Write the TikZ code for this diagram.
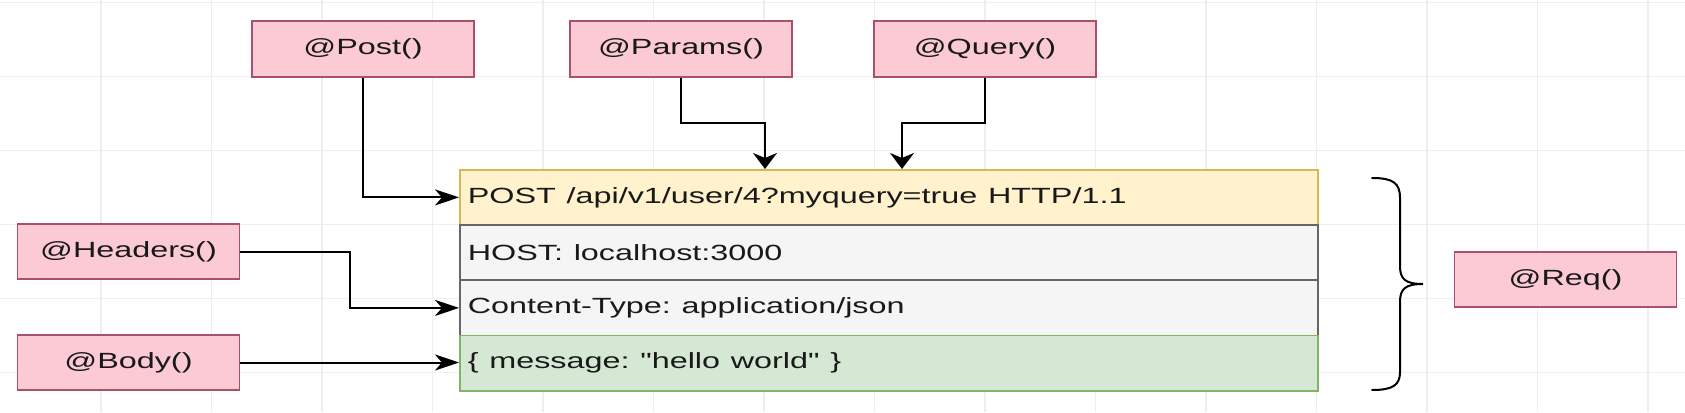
\documentclass[tikz,border=0pt]{standalone}
\usepackage{graphicx}
\usepackage{fontspec}
\setmainfont{Liberation Sans}
\usetikzlibrary{arrows.meta,calc}
\definecolor{pinkfill}{HTML}{FCCAD4}
\definecolor{pinkline}{HTML}{A8506C}
\definecolor{tanfill}{HTML}{FFF2CC}
\definecolor{tanline}{HTML}{D6B656}
\definecolor{grayfill}{HTML}{F5F5F5}
\definecolor{grayline}{HTML}{666666}
\definecolor{greenfill}{HTML}{D5E8D4}
\definecolor{greenline}{HTML}{82B366}
\definecolor{gridline}{HTML}{EEEEEE}
\frenchspacing
\newcommand{\wt}[1]{\scalebox{1.47}[1]{#1}}
\newcommand{\lblfont}{\fontsize{11}{13}\selectfont}
\tikzset{
  deco/.style={draw=pinkline, fill=pinkfill, line width=0.8pt, minimum width=111pt,
    minimum height=27.75pt, inner sep=0pt, font=\lblfont, text=black!90},
  rowbox/.style={minimum height=27.6pt, inner xsep=4pt, inner ysep=0pt,
    text width=421pt, align=left, line width=0.8pt, anchor=north west, font=\lblfont, text=black!90},
  harrow/.style={line width=1pt, -{Stealth[length=12pt,width=8pt,inset=3.5pt]}},
  varrow/.style={line width=1pt, -{Stealth[length=8pt,width=12pt,inset=2.5pt]}},
  gridstyle/.style={draw=gridline, line width=0.7pt},
  bracestyle/.style={line width=1pt, line cap=round}
}
\begin{document}
\begin{tikzpicture}[x=0.5pt, y=-0.5pt]
\useasboundingbox (0,0) rectangle (1685,412);
\fill[white] (0,0) rectangle (1685,412);
% background grid
\foreach \gx in {101,211.5,322,432.5,543,653.5,764,874.5,985,1095.5,1206,1316.5,1427,1537.5,1648}
  \draw[gridstyle] (\gx,0) -- (\gx,412);
\foreach \gy in {2.5,76.5,150.5,224.5,298.5,372.5}
  \draw[gridstyle] (0,\gy) -- (1685,\gy);

% request stack
\node[rowbox, draw=tanline, fill=tanfill] (r1) at (459,169) {\wt{POST /api/v1/user/4?myquery=true HTTP/1.1}};
\node[rowbox, draw=grayline, fill=grayfill] (r2) at (459,224.25) {\wt{HOST: localhost:3000}};
\node[rowbox, draw=grayline, fill=grayfill] (r3) at (459,279.5) {\wt{Content-Type: application/json}};
\node[rowbox, draw=greenline, fill=greenfill] (r4) at (459,334.75) {\wt{\{ message: \textquotedbl hello world\textquotedbl\ \}}};

% decorators
\node[deco] (post) at (363,49) {\wt{@Post()}};
\node[deco] (params) at (681,49) {\wt{@Params()}};
\node[deco] (query) at (985,49) {\wt{@Query()}};
\node[deco] (headers) at (128.5,251.5) {\wt{@Headers()}};
\node[deco] (body) at (128.5,362.5) {\wt{@Body()}};
\node[deco] (req) at (1565.5,279.5) {\wt{@Req()}};

% free ends on the top of the first row
\coordinate (pin) at (765,169);
\coordinate (qin) at (902,169);

% connectors
\draw[harrow] (post) |- (r1);
\draw[varrow] (params.south) |- ($(params.south)!.5!(pin)$) -| (pin);
\draw[varrow] (query.south) |- ($(query.south)!.5!(qin)$) -| (qin);
\draw[harrow] (headers.east) -| ($(headers.east)!.5!(r3.west)$) |- (r3.west);
\draw[harrow] (body.east) -- (body.east -| r4.west);

% brace
\draw[bracestyle] (1372,178) .. controls (1393,178) and (1400,183) .. (1400,198)
  -- (1400,266) .. controls (1400,279) and (1405,284) .. (1423,284)
  .. controls (1405,284) and (1400,289) .. (1400,302)
  -- (1400,372) .. controls (1400,385) and (1393,390) .. (1372,390);
\end{tikzpicture}
\end{document}
